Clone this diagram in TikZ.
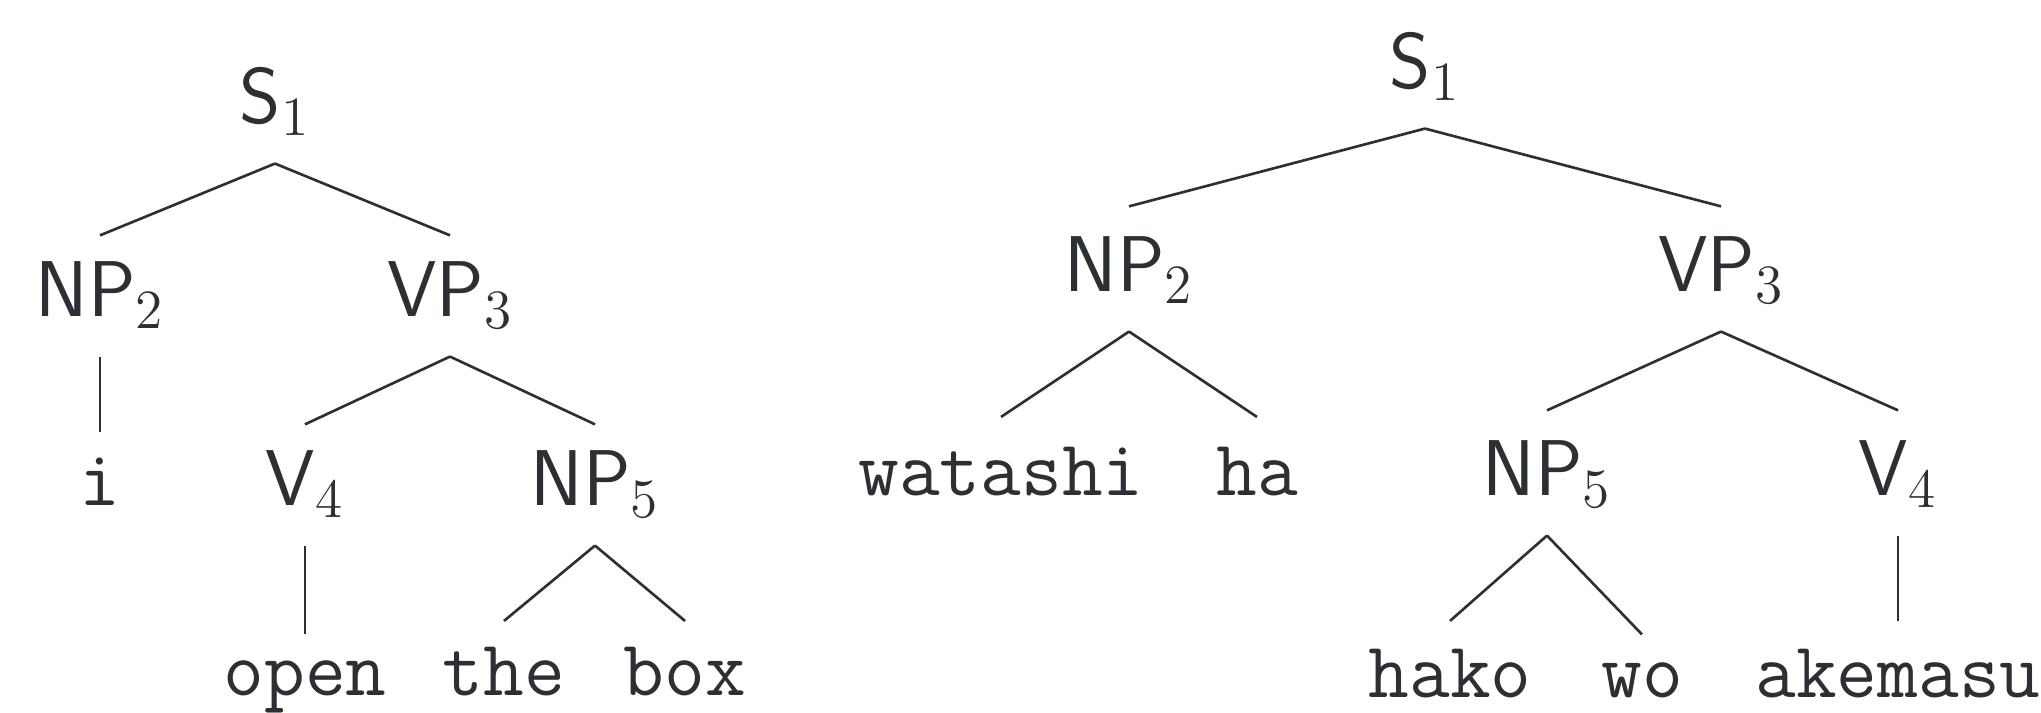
\RequirePackage{fix-cm}
\documentclass[tikz,border=0pt]{standalone}
\definecolor{ink}{RGB}{44,47,52}
\tikzset{
  cat/.style={font=\fontsize{22.5}{27}\selectfont\sffamily, inner sep=0pt, anchor=base, text=ink},
  word/.style={font=\fontsize{22.5}{27}\selectfont\ttfamily, inner sep=0pt, anchor=base, text=ink},
  branch/.style={draw=ink, line width=0.75pt},
}
% a branch leaves a little below the parent label and stops a little above the child label
% (optional argument: gap kept above the child)
\newcommand\treeedge[3][0.28cm]{\draw[branch] ([yshift=-0.27cm]#2.south) -- ([yshift=#1]#3.north);}
\begin{document}
\begin{tikzpicture}[x=0.01cm,y=-0.01cm]
\useasboundingbox (0,0) rectangle (2041,713);
% English tree
\node[cat]  (lS)    at (275,124) {S$_1$};
\node[cat]  (lNP)   at (100,317) {NP$_2$};
\node[cat]  (lVP)   at (450,317) {VP$_3$};
\node[word] (li)    at (100,506) {i};
\node[cat]  (lV)    at (305,506) {V$_4$};
\node[cat]  (lNPo)  at (595,506) {NP$_5$};
\node[word] (lopen) at (305,696) {open};
\node[word] (lthe)  at (504,696) {the};
\node[word] (lbox)  at (685,696) {box};
\treeedge[0.26cm]{lS}{lNP}
\treeedge[0.26cm]{lS}{lVP}
\treeedge[0.26cm]{lNP}{li}
\treeedge[0.26cm]{lVP}{lV}
\treeedge[0.26cm]{lVP}{lNPo}
\treeedge[0.26cm]{lV}{lopen}
\treeedge[0.26cm]{lNPo}{lthe}
\treeedge[0.26cm]{lNPo}{lbox}
% Japanese tree
\node[cat]  (rS)    at (1425,89)  {S$_1$};
\node[cat]  (rNP)   at (1129,292) {NP$_2$};
\node[cat]  (rVP)   at (1721,292) {VP$_3$};
\node[word] (rwat)  at (1001,496) {watashi};
\node[word] (rha)   at (1257,496) {ha};
\node[cat]  (rNPo)  at (1547,496) {NP$_5$};
\node[cat]  (rV)    at (1898,496) {V$_4$};
\node[word] (rhako) at (1450,698) {hako};
\node[word] (rwo)   at (1642,698) {wo};
\node[word] (rake)  at (1898,698) {akemasu};
\treeedge[0.30cm]{rS}{rNP}
\treeedge[0.30cm]{rS}{rVP}
\treeedge[0.30cm]{rNP}{rwat}
\treeedge[0.30cm]{rNP}{rha}
\treeedge[0.30cm]{rVP}{rNPo}
\treeedge[0.30cm]{rVP}{rV}
\treeedge{rNPo}{rhako}
\treeedge{rNPo}{rwo}
\treeedge{rV}{rake}
\end{tikzpicture}
\end{document}
